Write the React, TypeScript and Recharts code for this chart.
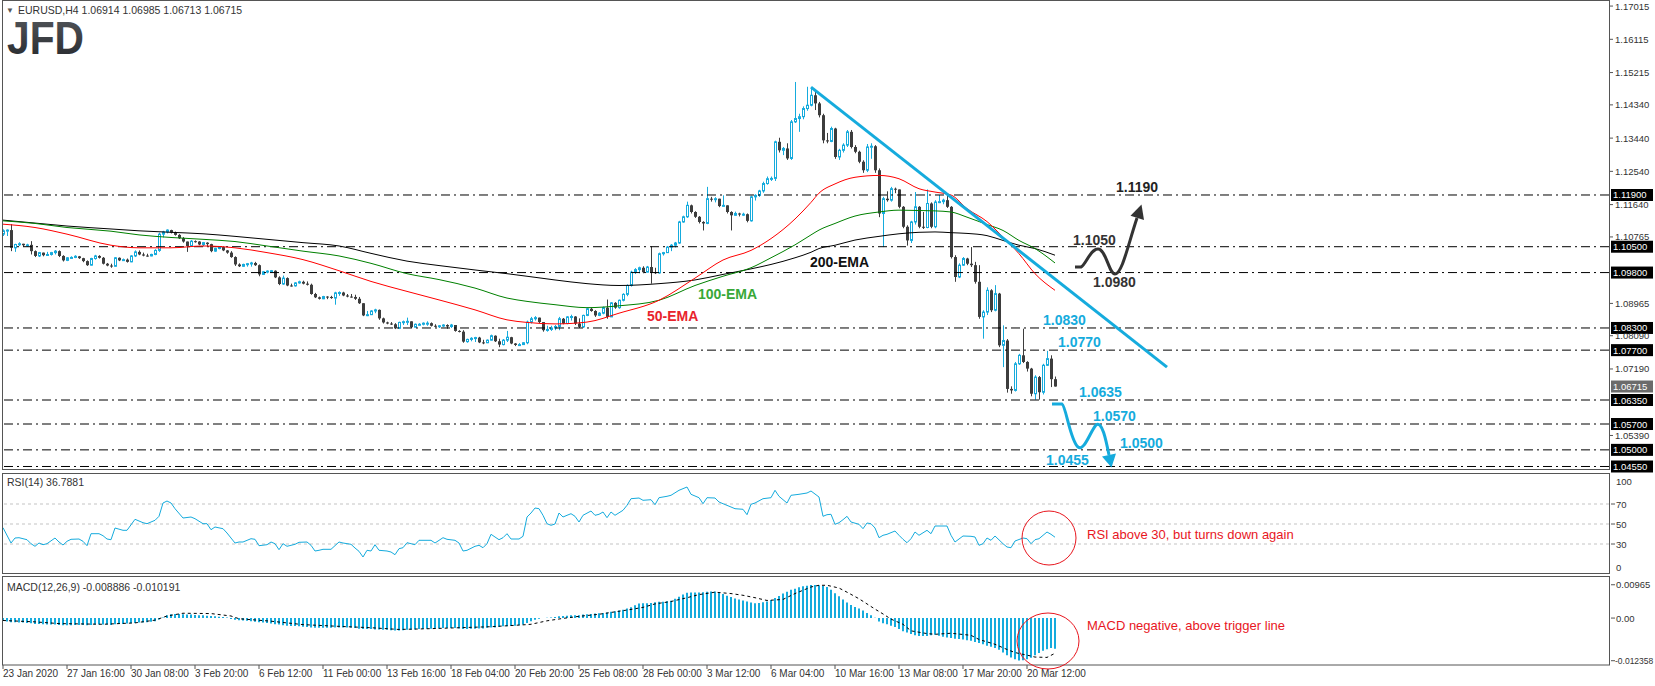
import React from "react";
import { ComposedChart, Bar, Line, XAxis, YAxis, ReferenceLine } from "recharts";

const FONT = "'Liberation Sans', Arial, sans-serif";
const CYAN = "#15ABDD";
const DARK = "#3D3D3D";

// EURUSD H4 candles, bar 0 = 23 Jan 2020 00:00
const firstOpen = 1.1084;
const closes = [
  1.1093, 1.1095, 1.1047, 1.1056, 1.1058, 1.1054, 1.1055, 1.1038, 1.1025, 1.1034,
  1.1027, 1.1029, 1.1034, 1.1038, 1.1025, 1.1013, 1.102, 1.1021, 1.1024, 1.1019,
  1.1011, 1.1, 1.1018, 1.1025, 1.102, 1.1004, 1.0999, 1.0997, 1.102, 1.1013,
  1.1015, 1.1009, 1.1025, 1.1036, 1.1029, 1.1026, 1.1025, 1.1029, 1.104, 1.1084,
  1.109, 1.1095, 1.1088, 1.1082, 1.1073, 1.1064, 1.1052, 1.1065, 1.1064, 1.1056,
  1.1061, 1.1057, 1.1038, 1.1045, 1.1049, 1.104, 1.1034, 1.1022, 1.1002, 1.0997,
  1.1002, 1.1004, 1.1006, 1.1, 1.0975, 1.0982, 1.0984, 1.0985, 1.0967, 1.0949,
  1.0965, 1.0945, 1.0944, 1.0952, 1.0955, 1.095, 1.0947, 1.0922, 1.0913, 1.0909,
  1.0915, 1.0914, 1.0911, 1.0925, 1.0926, 1.0918, 1.0915, 1.0914, 1.0909, 1.0897,
  1.0864, 1.0866, 1.0876, 1.0879, 1.0856, 1.0845, 1.0842, 1.084, 1.0829, 1.0845,
  1.0847, 1.0848, 1.0832, 1.084, 1.084, 1.0843, 1.0843, 1.0836, 1.0834, 1.0836,
  1.0838, 1.0834, 1.0838, 1.0822, 1.082, 1.0793, 1.0799, 1.0802, 1.0804, 1.0791,
  1.079, 1.0797, 1.0809, 1.0794, 1.0785, 1.0797, 1.0805, 1.0788, 1.0784, 1.0785,
  1.079, 1.0846, 1.0855, 1.0858, 1.0846, 1.0824, 1.0826, 1.083, 1.0834, 1.0855,
  1.0842, 1.086, 1.0861, 1.0842, 1.0833, 1.0864, 1.0882, 1.0876, 1.0864, 1.087,
  1.0885, 1.086, 1.0898, 1.0885, 1.0905, 1.0921, 1.0945, 1.0981, 1.0988, 1.0993,
  1.0981, 1.0995, 1.0981, 1.0979, 1.1031, 1.1034, 1.1049, 1.1054, 1.106, 1.1117,
  1.1131, 1.1162, 1.1144, 1.1131, 1.1117, 1.1113, 1.118, 1.1178, 1.118, 1.116,
  1.1162, 1.1144, 1.1135, 1.114, 1.1137, 1.1138, 1.112, 1.1185, 1.1189, 1.1201,
  1.1221, 1.1234, 1.1235, 1.1334, 1.1311, 1.1316, 1.1289, 1.1388, 1.1397, 1.1402,
  1.1424, 1.1433, 1.146, 1.1438, 1.1406, 1.1338, 1.1335, 1.137, 1.1293, 1.1311,
  1.1325, 1.1361, 1.132, 1.1307, 1.128, 1.1257, 1.132, 1.1322, 1.1257, 1.114,
  1.118, 1.1176, 1.1207, 1.1205, 1.1158, 1.1104, 1.1067, 1.1117, 1.1158, 1.1104,
  1.1102, 1.1167, 1.1104, 1.1171, 1.1172, 1.1176, 1.1158, 1.1022, 1.0968, 1.1,
  1.1018, 1.1004, 1.1, 1.0955, 1.086, 1.0873, 1.0932, 1.0878, 1.0923, 1.0783,
  1.0796, 1.0665, 1.0661, 1.0733, 1.0756, 1.0738, 1.072, 1.0652, 1.0697, 1.0656,
  1.0729, 1.0747, 1.06914, 1.06715,
];
const highs = [
  1.1097, 1.1097, 1.1111, 1.1058, 1.1062, 1.1058, 1.1058, 1.1065, 1.104, 1.1036,
  1.1034, 1.1036, 1.1036, 1.1041, 1.104, 1.1027, 1.1022, 1.1024, 1.1027, 1.1025,
  1.102, 1.1013, 1.102, 1.1028, 1.1027, 1.1022, 1.1006, 1.1004, 1.1022, 1.1021,
  1.1018, 1.1018, 1.1027, 1.104, 1.104, 1.1034, 1.1031, 1.1031, 1.1043, 1.1088,
  1.1093, 1.1097, 1.1096, 1.1091, 1.1084, 1.1076, 1.1064, 1.1068, 1.1067, 1.1065,
  1.1063, 1.1062, 1.1058, 1.1047, 1.1051, 1.1051, 1.1041, 1.1038, 1.1024, 1.1005,
  1.1004, 1.1006, 1.1009, 1.1009, 1.1002, 1.0984, 1.0986, 1.0987, 1.0986, 1.097,
  1.0972, 1.0967, 1.095, 1.0954, 1.0958, 1.0958, 1.0956, 1.095, 1.0925, 1.0915,
  1.0917, 1.0916, 1.0917, 1.0928, 1.0929, 1.0928, 1.0922, 1.0922, 1.092, 1.0914,
  1.0897, 1.0876, 1.0878, 1.0882, 1.088, 1.0858, 1.0847, 1.0846, 1.0843, 1.0847,
  1.085, 1.0858, 1.0848, 1.0842, 1.0843, 1.0845, 1.0848, 1.0845, 1.084, 1.0838,
  1.084, 1.084, 1.0841, 1.0838, 1.0824, 1.0824, 1.0801, 1.0805, 1.0806, 1.0806,
  1.0798, 1.0799, 1.0812, 1.081, 1.0801, 1.08, 1.0822, 1.0806, 1.0789, 1.0789,
  1.0792, 1.085, 1.086, 1.0862, 1.0858, 1.0846, 1.0836, 1.0836, 1.0838, 1.086,
  1.0857, 1.0862, 1.0866, 1.0862, 1.0856, 1.0866, 1.0885, 1.0884, 1.0878, 1.0873,
  1.0888, 1.0907, 1.09, 1.09, 1.0907, 1.0924, 1.0948, 1.0985, 1.0992, 1.0996,
  1.0997, 1.0998, 1.1051, 1.0993, 1.1034, 1.1036, 1.1052, 1.1057, 1.1063, 1.112,
  1.1134, 1.1172, 1.1164, 1.1146, 1.1133, 1.1119, 1.1212, 1.1185, 1.1184, 1.118,
  1.1189, 1.1162, 1.1146, 1.1145, 1.1142, 1.1142, 1.114, 1.1188, 1.1192, 1.1204,
  1.1226, 1.124, 1.124, 1.1337, 1.1345, 1.132, 1.133, 1.1393, 1.1496, 1.141,
  1.143, 1.1483, 1.1478, 1.147, 1.1442, 1.141, 1.1358, 1.1375, 1.1372, 1.1315,
  1.133, 1.1366, 1.1366, 1.1325, 1.131, 1.1284, 1.1328, 1.133, 1.1325, 1.1262,
  1.1185, 1.12, 1.1212, 1.121, 1.1205, 1.116, 1.1108, 1.112, 1.1198, 1.116,
  1.1144, 1.1205, 1.117, 1.1176, 1.119, 1.118, 1.119, 1.116, 1.1027, 1.1005,
  1.1022, 1.102, 1.1049, 1.1009, 1.1, 1.0878, 1.094, 1.0935, 1.0946, 1.0925,
  1.0837, 1.08, 1.0672, 1.0738, 1.076, 1.0828, 1.074, 1.0722, 1.0702, 1.07,
  1.0733, 1.0768, 1.0756, 1.06985,
];
const lows = [
  1.1079, 1.1079, 1.1038, 1.1036, 1.1052, 1.105, 1.105, 1.1029, 1.1022, 1.1022,
  1.1024, 1.1025, 1.1026, 1.1029, 1.1022, 1.101, 1.1011, 1.1018, 1.1019, 1.1017,
  1.1008, 1.0998, 1.0999, 1.1015, 1.1018, 1.1002, 1.0997, 1.0993, 1.0996, 1.1011,
  1.1012, 1.1007, 1.1008, 1.1022, 1.1027, 1.1024, 1.1023, 1.1024, 1.1027, 1.1036,
  1.1075, 1.1086, 1.1086, 1.108, 1.1071, 1.1061, 1.1036, 1.1052, 1.1061, 1.1054,
  1.1051, 1.1052, 1.1035, 1.1036, 1.1043, 1.1038, 1.1031, 1.102, 1.0998, 1.0995,
  1.0995, 1.0996, 1.0996, 1.0998, 1.097, 1.0975, 1.0978, 1.0981, 1.0965, 1.0946,
  1.0947, 1.0943, 1.0942, 1.0942, 1.095, 1.0948, 1.0945, 1.092, 1.0911, 1.0907,
  1.0908, 1.0908, 1.0909, 1.0893, 1.0917, 1.0916, 1.0913, 1.0912, 1.0906, 1.0895,
  1.0862, 1.0862, 1.0865, 1.087, 1.0852, 1.0842, 1.084, 1.0838, 1.0827, 1.0827,
  1.0838, 1.0838, 1.083, 1.0832, 1.0837, 1.0837, 1.0836, 1.0834, 1.0832, 1.083,
  1.0833, 1.0828, 1.083, 1.082, 1.0818, 1.079, 1.079, 1.0794, 1.0792, 1.0789,
  1.0786, 1.0789, 1.0796, 1.0792, 1.0778, 1.0783, 1.0792, 1.0786, 1.0781, 1.0782,
  1.0785, 1.0786, 1.0842, 1.085, 1.0843, 1.082, 1.082, 1.0822, 1.0824, 1.0824,
  1.084, 1.084, 1.085, 1.0838, 1.083, 1.083, 1.0862, 1.0874, 1.086, 1.0862,
  1.0867, 1.0855, 1.0862, 1.0882, 1.0882, 1.0902, 1.0916, 1.0942, 1.0976, 1.0978,
  1.0978, 1.0981, 1.095, 1.0976, 1.0977, 1.1026, 1.1038, 1.1038, 1.1048, 1.1058,
  1.1115, 1.1128, 1.114, 1.1128, 1.1113, 1.1094, 1.1111, 1.1172, 1.117, 1.1157,
  1.1158, 1.114, 1.1094, 1.1134, 1.1132, 1.1133, 1.1116, 1.1118, 1.1175, 1.1185,
  1.1196, 1.1218, 1.1228, 1.1228, 1.1305, 1.1298, 1.1285, 1.1285, 1.1385, 1.1361,
  1.1395, 1.1418, 1.143, 1.142, 1.14, 1.133, 1.133, 1.1333, 1.1288, 1.1285,
  1.1305, 1.132, 1.1316, 1.1303, 1.1276, 1.125, 1.1252, 1.1288, 1.125, 1.113,
  1.1049, 1.1172, 1.1172, 1.1195, 1.1154, 1.11, 1.1053, 1.106, 1.111, 1.11,
  1.1098, 1.11, 1.11, 1.11, 1.1168, 1.1165, 1.1155, 1.1018, 1.0955, 1.0965,
  1.0998, 1.1, 1.0995, 1.095, 1.0855, 1.0801, 1.0865, 1.0873, 1.0875, 1.0778,
  1.0724, 1.0655, 1.0652, 1.0658, 1.073, 1.0735, 1.0712, 1.0645, 1.0636, 1.0636,
  1.065, 1.0727, 1.067, 1.06713,
];

// moving averages at these bars
const emaBars = [0, 8, 16, 27, 34, 42, 50, 58, 66, 75, 84, 92, 101, 109, 118, 126, 131, 138, 146, 154, 164, 173, 180, 187, 192, 198, 202, 204, 208, 213, 219, 224, 229, 233, 237, 241, 246, 250, 254, 258, 263];
const ema50 = [1.1111, 1.1102, 1.1084, 1.1054, 1.1047, 1.1047, 1.1052, 1.1047, 1.1034, 1.1015, 1.0985, 1.0956, 1.0929, 1.0906, 1.0879, 1.0852, 1.0845, 1.0841, 1.0846, 1.087, 1.0905, 1.0965, 1.1014, 1.104, 1.1072, 1.1125, 1.117, 1.1195, 1.122, 1.1238, 1.1243, 1.1234, 1.1207, 1.1198, 1.119, 1.1153, 1.1118, 1.1076, 1.1031, 1.0977, 1.0932];
const ema100 = [1.112, 1.1113, 1.1102, 1.1092, 1.1082, 1.1075, 1.107, 1.1064, 1.1052, 1.1038, 1.1025, 1.1005, 1.0977, 1.0961, 1.0938, 1.0911, 1.0902, 1.0893, 1.0885, 1.089, 1.0905, 1.0945, 1.097, 1.0993, 1.102, 1.1055, 1.1082, 1.1095, 1.1113, 1.1133, 1.1144, 1.1149, 1.1148, 1.1147, 1.1144, 1.113, 1.111, 1.1094, 1.1067, 1.1045, 1.1006];
const ema200 = [1.1122, 1.1114, 1.1106, 1.1098, 1.1093, 1.1089, 1.1085, 1.1078, 1.107, 1.1061, 1.1052, 1.1032, 1.1011, 1.0999, 1.0987, 1.0977, 1.097, 1.096, 1.095, 1.0945, 1.095, 1.096, 1.0975, 1.099, 1.1002, 1.102, 1.1035, 1.1045, 1.1054, 1.1068, 1.1078, 1.1085, 1.1089, 1.109, 1.1088, 1.1086, 1.108, 1.1067, 1.1054, 1.1045, 1.1027];

const rsiBars = [0, 2, 3, 4, 6, 7, 8, 9, 10, 11, 13, 14, 15, 16, 17, 19, 20, 21, 22, 24, 25, 26, 27, 28, 30, 31, 33, 35, 36, 38, 39, 40, 41, 42, 43, 45, 47, 48, 50, 51, 52, 53, 55, 56, 58, 59, 60, 62, 63, 64, 66, 67, 68, 69, 70, 71, 73, 74, 76, 77, 78, 79, 80, 82, 84, 85, 87, 88, 89, 90, 91, 92, 93, 94, 96, 97, 98, 99, 100, 101, 103, 104, 107, 108, 110, 111, 113, 114, 115, 116, 118, 119, 120, 121, 122, 124, 125, 126, 127, 129, 130, 131, 132, 133, 134, 135, 136, 137, 138, 139, 140, 141, 142, 143, 144, 145, 147, 148, 149, 150, 151, 152, 153, 155, 156, 157, 159, 160, 162, 163, 164, 166, 167, 169, 171, 172, 174, 175, 176, 178, 179, 180, 182, 183, 185, 186, 187, 188, 190, 192, 193, 194, 196, 197, 199, 201, 202, 204, 205, 206, 207, 208, 209, 210, 211, 212, 214, 215, 216, 217, 218, 219, 220, 221, 223, 224, 225, 226, 227, 228, 229, 231, 232, 233, 236, 237, 238, 240, 242, 243, 244, 245, 246, 247, 248, 250, 251, 252, 253, 255, 256, 257, 258, 259, 261, 262, 263];
const rsiValues = [46.3, 31, 36, 36.3, 34.3, 30.3, 27.7, 31, 29.3, 30.3, 36, 32, 29, 32.7, 34.7, 35, 32.7, 28.3, 40.3, 40.3, 38.3, 35, 34.3, 46, 43.7, 43.7, 54.7, 51.3, 50.3, 53.7, 57.7, 71, 73, 71, 65.3, 56, 57, 55.3, 50.3, 50.3, 44.3, 47, 45.3, 41, 31, 32, 32, 35.3, 34.7, 28.3, 29.3, 32, 30.3, 24.3, 30.3, 27.7, 29.7, 31.7, 32, 28.7, 23, 23.7, 24.7, 24.7, 32, 31, 29.7, 26, 22.7, 17, 23.7, 23, 29.3, 23.7, 23, 22, 19.3, 25.3, 26.3, 31.3, 29.3, 33.7, 33.7, 31, 36.3, 34.7, 33.7, 31, 23, 23.7, 27.7, 28.7, 26.3, 30.3, 39.7, 34.3, 36.3, 40.3, 35, 35, 37.7, 57, 61, 66, 65.3, 58.7, 50.3, 48.7, 50, 61, 57, 58.7, 60.3, 57.7, 52, 58.7, 63, 58.7, 59.7, 62, 56.3, 62, 58.7, 63.7, 68.7, 75.3, 76, 73.7, 74.3, 69.3, 76.3, 77.7, 78.7, 83.7, 87, 79.7, 76.3, 70.3, 76.3, 76, 72, 70.3, 67, 65.3, 64.7, 59.3, 69.7, 71, 75.3, 76.3, 83.7, 77.7, 71, 78.7, 79.7, 81, 83, 77, 57.7, 59.3, 59.7, 49.7, 51.3, 54.3, 57.7, 52, 49.7, 45.3, 51, 50.3, 46, 36.3, 38.7, 39.7, 43, 38.7, 34.7, 31.3, 35.3, 42, 38.7, 43.7, 40.3, 48, 48, 38.7, 32, 38, 37.7, 37, 28.7, 30.3, 36, 33.7, 38, 30.3, 27, 26.3, 33, 36, 35.3, 30.3, 34.3, 35.3, 42, 39.7, 36.79];

const macdMain = [
  -0.0008, -0.001, -0.0012, -0.0012, -0.0013, -0.0013, -0.0014, -0.0015,
  -0.0017, -0.0017, -0.0018, -0.0019, -0.0019, -0.0019, -0.002, -0.0021,
  -0.0021, -0.0021, -0.002, -0.002, -0.002, -0.0021, -0.002, -0.0019,
  -0.0019, -0.0019, -0.0019, -0.002, -0.0018, -0.0017, -0.0017, -0.0016,
  -0.0015, -0.0014, -0.0013, -0.0013, -0.0012, -0.0011, -0.0009, -0.0004,
  0.0002, 0.0008, 0.0011, 0.0012, 0.0012, 0.0011, 0.001, 0.001,
  0.0009, 0.0008, 0.0008, 0.0007, 0.0006, 0.0005, 0.0004, 0.0003,
  0.0002, -0.0003, -0.0005, -0.0006, -0.0007, -0.0008, -0.0009,
  -0.0011, -0.0012, -0.0013, -0.0014, -0.0016, -0.0018, -0.0019, -0.0021,
  -0.0022, -0.0023, -0.0023, -0.0024, -0.0025, -0.0026, -0.0027, -0.0028,
  -0.0028, -0.0028, -0.0028, -0.0028, -0.0027, -0.0027, -0.0027, -0.0027,
  -0.0028, -0.0029, -0.0031, -0.0032, -0.0032, -0.0032, -0.0033, -0.0033,
  -0.0034, -0.0034, -0.0035, -0.0036, -0.0036, -0.0035, -0.0034, -0.0034,
  -0.0033, -0.0032, -0.0032, -0.0031, -0.0031, -0.003, -0.003, -0.0029,
  -0.0029, -0.0029, -0.0029, -0.003, -0.0032, -0.0032, -0.0031, -0.0031,
  -0.003, -0.003, -0.0028, -0.0027, -0.0027, -0.0026, -0.0024, -0.0024,
  -0.0023, -0.0022, -0.0021, -0.0019, -0.0014, -0.0009, -0.0005, -0.0002,
  0.0, 0.0001, 0.0002, 0.0003, 0.0005, 0.0006, 0.0007, 0.0008,
  0.0008, 0.0008, 0.001, 0.0011, 0.0012, 0.0013, 0.0014, 0.0015,
  0.0016, 0.0018, 0.002, 0.0022, 0.0024, 0.0028, 0.0031,
  0.0037, 0.0042, 0.0043, 0.0043, 0.0044, 0.0046, 0.0047, 0.0047,
  0.0049, 0.005, 0.0056, 0.0062, 0.0068, 0.0073, 0.0074, 0.0074,
  0.0074, 0.0075, 0.0076, 0.0077, 0.0077, 0.0075, 0.007, 0.0065,
  0.0061, 0.0057, 0.0054, 0.0051, 0.0048, 0.0045, 0.0043, 0.0044,
  0.0046, 0.0048, 0.0052, 0.0058, 0.0064, 0.0071, 0.0076, 0.0082,
  0.0085, 0.0089, 0.0092, 0.0094, 0.0096, 0.0096, 0.0095, 0.0093,
  0.009, 0.0082, 0.0072, 0.0063, 0.0054, 0.0045, 0.0038, 0.0032,
  0.0028, 0.0022, 0.0015, 0.0008, 0.0001, -0.001, -0.0015, -0.0018,
  -0.0022, -0.0026, -0.0032, -0.0038, -0.0042, -0.0046, -0.005, -0.0052,
  -0.0052, -0.0052, -0.005, -0.0048, -0.0051, -0.0054, -0.0056, -0.0058,
  -0.006, -0.0061, -0.0062, -0.0064, -0.0066, -0.0069, -0.0072, -0.0076,
  -0.008, -0.0083, -0.0087, -0.0092, -0.01, -0.0108, -0.0114, -0.0119,
  -0.0123, -0.0122, -0.0119, -0.0115, -0.0108, -0.0101, -0.0095, -0.009,
  -0.0087, -0.0089,
];
const sigBars = [0, 8, 14, 25, 33, 38, 41, 45, 52, 57, 59, 67, 75, 84, 92, 99, 106, 114, 122, 131, 132, 136, 140, 144, 149, 153, 157, 160, 163, 167, 171, 174, 178, 182, 185, 188, 191, 195, 198, 202, 204, 206, 209, 211, 214, 216, 218, 220, 222, 225, 227, 231, 233, 237, 242, 244, 248, 251, 253, 257, 258, 261, 263];
const sigValues = [-0.0007, -0.0011, -0.0016, -0.0018, -0.0014, -0.0006, 0.0006, 0.0014, 0.0013, 0.0006, -0.0002, -0.0009, -0.0019, -0.0024, -0.0028, -0.0033, -0.0031, -0.0028, -0.0025, -0.0019, -0.0018, -0.0008, -0.0001, 0.0005, 0.0011, 0.0018, 0.0025, 0.0031, 0.0041, 0.0048, 0.0059, 0.0068, 0.0075, 0.0071, 0.0066, 0.0059, 0.0051, 0.0054, 0.0071, 0.009, 0.0095, 0.0095, 0.0087, 0.0075, 0.0056, 0.0041, 0.0026, 0.0012, -0.0003, -0.0018, -0.0037, -0.0045, -0.0047, -0.0044, -0.005, -0.0062, -0.0076, -0.0091, -0.01, -0.011, -0.0113, -0.0114, -0.0102];

const timeBars = [0, 16, 32, 48, 64, 80, 96, 112, 128, 144, 160, 176, 192, 208, 224, 240, 256];
const timeLabels = ["23 Jan 2020", "27 Jan 16:00", "30 Jan 08:00", "3 Feb 20:00", "6 Feb 12:00", "11 Feb 00:00", "13 Feb 16:00", "18 Feb 04:00", "20 Feb 20:00", "25 Feb 08:00", "28 Feb 00:00", "3 Mar 12:00", "6 Mar 04:00", "10 Mar 16:00", "13 Mar 08:00", "17 Mar 20:00", "20 Mar 12:00"];

const priceTicks = [1.17015, 1.16115, 1.15215, 1.1434, 1.1344, 1.1254, 1.1164, 1.10765, 1.08965, 1.0809, 1.0719, 1.0539];
const levels = [1.119, 1.105, 1.098, 1.083, 1.077, 1.0635, 1.057, 1.05, 1.0455];
const lastPrice = 1.06715;

const SLOTS = 402;
const rows: any[] = Array.from({ length: SLOTS }, (_, i) => {
  const row: any = { i };
  if (i < closes.length) {
    row.open = i === 0 ? firstOpen : closes[i - 1];
    row.close = closes[i];
    row.high = highs[i];
    row.low = lows[i];
    row.range = [lows[i], highs[i]];
    row.macd = macdMain[i];
  }
  return row;
});
emaBars.forEach((b, k) => {
  rows[b].e50 = ema50[k];
  rows[b].e100 = ema100[k];
  rows[b].e200 = ema200[k];
});
rsiBars.forEach((b, k) => (rows[b].rsi = rsiValues[k]));
sigBars.forEach((b, k) => (rows[b].sig = sigValues[k]));

function Candle(props: any) {
  const { x, y, width, height, payload } = props;
  if (!payload || payload.close == null || !isFinite(y) || !isFinite(height)) return null;
  const { open, close, high, low } = payload;
  const cx = Math.round(x + width / 2) + 0.5;
  const ppu = high > low ? height / (high - low) : 0;
  const yOf = (v: number) => y + (high - v) * ppu;
  const up = close >= open;
  const top = yOf(Math.max(open, close));
  const bot = yOf(Math.min(open, close));
  const color = up ? CYAN : DARK;
  return (
    <g>
      <line x1={cx} x2={cx} y1={y} y2={y + height} stroke={color} strokeWidth={1} />
      {up ? (
        <rect x={cx - 1} y={top} width={2} height={Math.max(bot - top, 1)} fill="#fff" stroke={color} strokeWidth={1} />
      ) : (
        <rect x={cx - 1.5} y={top} width={3} height={Math.max(bot - top, 1)} fill={color} />
      )}
    </g>
  );
}

const PriceTick = (p: any) => (
  <text x={p.x} y={p.y + 3.5} fontSize={9.5} fontFamily={FONT} fill="#333">
    {Number(p.payload.value).toFixed(5)}
  </text>
);

const LevelTag = (p: any) => {
  const vb = p.viewBox;
  const x = vb.x + vb.width + 2;
  return (
    <g>
      <rect x={x} y={vb.y - 6} width={42} height={12} fill={p.fill} />
      <text x={x + 2} y={vb.y + 3.5} fontSize={9.5} fontFamily={FONT} fill="#fff">
        {p.text}
      </text>
    </g>
  );
};

const RsiTick = (p: any) => {
  const v = p.payload.value;
  const dy = v === 100 ? 7 : v === 0 ? -7 : 0;
  return (
    <g>
      {v !== 100 && v !== 0 && <line x1={p.x - 6} x2={p.x - 2} y1={p.y} y2={p.y} stroke="#555" />}
      <text x={p.x - 1} y={p.y + dy + 3.5} fontSize={9.5} fontFamily={FONT} fill="#333">
        {v}
      </text>
    </g>
  );
};

const macdText: Record<string, string> = { "0.00965": "0.00965", "0": "0.00", "-0.012358": "-0.012358" };
const MacdTick = (p: any) => {
  const label = macdText[String(p.payload.value)];
  const long = label && label.length > 7;
  return (
    <g>
      <line x1={p.x - 6} x2={p.x - 2} y1={p.y} y2={p.y} stroke="#555" />
      <text x={p.x - (long ? 2 : 1)} y={p.y + 3.5} fontSize={long ? 8.5 : 9.5} fontFamily={FONT} fill="#333">
        {label}
      </text>
    </g>
  );
};

const TimeTick = (p: any) => {
  const k = timeBars.indexOf(Number(p.payload.value));
  return (
    <g>
      <line x1={p.x} x2={p.x} y1={p.y - 8} y2={p.y - 4} stroke="#555" />
      <text x={p.x} y={p.y + 4} fontSize={10} fontFamily={FONT} fill="#333">
        {timeLabels[k]}
      </text>
    </g>
  );
};

function Overlay() {
  const red = "#E8161E";
  const bold = { fontFamily: FONT, fontWeight: 700, fontSize: 14 } as const;
  return (
    <svg width={1655} height={686} style={{ position: "absolute", left: 0, top: 0, pointerEvents: "none" }}>
      <defs>
        <linearGradient id="jfd" x1="0" y1="0" x2="0" y2="1">
          <stop offset="0" stopColor="#55585d" />
          <stop offset="1" stopColor="#24272b" />
        </linearGradient>
      </defs>
      <g fill="none" stroke="#555" strokeWidth={1}>
        <rect x={2.5} y={0.5} width={1607} height={469} />
        <rect x={2.5} y={473.5} width={1607} height={100} />
        <rect x={2.5} y={576.5} width={1607} height={88.5} />
      </g>
      <text x={6} y={13} fontSize={8} fill="#555" fontFamily={FONT}>▼</text>
      <text x={18} y={13.5} fontSize={10.5} fill="#333" fontFamily={FONT}>
        EURUSD,H4  1.06914 1.06985 1.06713 1.06715
      </text>
      <text x={7} y={54} fontSize={46} fontWeight={700} fontFamily={FONT} fill="url(#jfd)" textLength={77} lengthAdjust="spacingAndGlyphs">
        JFD
      </text>
      <text x={7} y={486} fontSize={10.5} fill="#333" fontFamily={FONT}>RSI(14) 36.7881</text>
      <text x={7} y={591} fontSize={10.5} fill="#333" fontFamily={FONT}>MACD(12,26,9) -0.008886 -0.010191</text>

      <text x={647} y={321} fill="#E8242C" {...bold}>50-EMA</text>
      <text x={698} y={299} fill="#38A838" {...bold}>100-EMA</text>
      <text x={810} y={267} fill="#111" {...bold}>200-EMA</text>

      <text x={1116} y={192} fill="#222" {...bold}>1.1190</text>
      <text x={1073} y={245} fill="#333" {...bold}>1.1050</text>
      <text x={1093} y={287} fill="#333" {...bold}>1.0980</text>
      <path d="M1075,267 L1081,267 C1086,265 1090,249 1098,249 C1106,249 1109,274 1115,274 C1122,274 1128,245 1137,218" fill="none" stroke="#333" strokeWidth={3} />
      <polygon points="1141.5,204.5 1144,220 1130.5,215.8" fill="#333" />

      <g fill={CYAN} {...bold}>
        <text x={1043} y={325}>1.0830</text>
        <text x={1058} y={347}>1.0770</text>
        <text x={1079} y={397}>1.0635</text>
        <text x={1093} y={421}>1.0570</text>
        <text x={1120} y={448}>1.0500</text>
        <text x={1046} y={465}>1.0455</text>
      </g>
      <path d="M1052,404 L1062,404 C1066,406 1070,440 1078,447 C1084,452 1090,432 1096,425 C1102,420 1106,440 1109,455" fill="none" stroke={CYAN} strokeWidth={3} />
      <polygon points="1111.5,467.5 1116,453.5 1102,456.5" fill={CYAN} />

      <circle cx={1049} cy={538} r={27} fill="none" stroke={red} strokeWidth={1} />
      <text x={1087} y={539} fontSize={13} fill={red} fontFamily={FONT}>RSI above 30, but turns down again</text>
      <ellipse cx={1048} cy={641} rx={31} ry={28} fill="none" stroke={red} strokeWidth={1} />
      <text x={1087} y={630} fontSize={13} fill={red} fontFamily={FONT}>MACD negative, above trigger line</text>
    </svg>
  );
}

export default function App() {
  return (
    <div style={{ position: "absolute", left: 0, top: 0, width: 1655, height: 686, background: "#fff", overflow: "hidden" }}>
      <div style={{ position: "absolute", left: 0, top: 0 }}>
        <ComposedChart width={1655} height={476} data={rows} margin={{ top: 2, right: 0, bottom: 7, left: 1 }} barCategoryGap={0}>
          <XAxis dataKey="i" type="category" hide />
          <YAxis
            orientation="right"
            width={46}
            type="number"
            domain={[1.04482, 1.17125]}
            allowDataOverflow
            ticks={priceTicks}
            interval={0}
            axisLine={false}
            tickSize={4}
            tickLine={{ stroke: "#555" }}
            tick={PriceTick}
          />
          {levels.map((v) => (
            <ReferenceLine
              key={v}
              y={v}
              stroke="#000"
              strokeDasharray="9 4 2 4"
              label={(p: any) => <LevelTag viewBox={p.viewBox} fill="#000" text={v.toFixed(5)} />}
            />
          ))}
          <ReferenceLine
            y={lastPrice}
            stroke="none"
            label={(p: any) => <LevelTag viewBox={p.viewBox} fill="#6B6B6B" text={lastPrice.toFixed(5)} />}
          />
          <Line dataKey="e200" stroke="#000" strokeWidth={1} dot={false} connectNulls type="monotone" isAnimationActive={false} />
          <Line dataKey="e100" stroke="#008000" strokeWidth={1} dot={false} connectNulls type="monotone" isAnimationActive={false} />
          <Line dataKey="e50" stroke="#FF0000" strokeWidth={1} dot={false} connectNulls type="monotone" isAnimationActive={false} />
          <Bar dataKey="range" shape={(p: any) => <Candle {...p} />} isAnimationActive={false} />
          <ReferenceLine
            segment={[
              { x: 202, y: 1.1482 },
              { x: 291, y: 1.0724 },
            ]}
            stroke={CYAN}
            strokeWidth={3}
            ifOverflow="visible"
          />
        </ComposedChart>
      </div>

      <div style={{ position: "absolute", left: 0, top: 474 }}>
        <ComposedChart width={1655} height={100} data={rows} margin={{ top: 0, right: 0, bottom: 0, left: 1 }} barCategoryGap={0}>
          <XAxis dataKey="i" type="category" hide />
          <YAxis orientation="right" width={46} type="number" domain={[0, 100]} ticks={[0, 30, 50, 70, 100]} interval={0} axisLine={false} tickLine={false} tick={RsiTick} />
          {[30, 50, 70].map((v) => (
            <ReferenceLine key={v} y={v} stroke="#C3C3C3" strokeDasharray="3 3" />
          ))}
          <Bar dataKey="none" isAnimationActive={false} />
          <Line dataKey="rsi" stroke={CYAN} strokeWidth={1} dot={false} connectNulls type="linear" isAnimationActive={false} />
        </ComposedChart>
      </div>

      <div style={{ position: "absolute", left: 0, top: 577 }}>
        <ComposedChart width={1655} height={109} data={rows} margin={{ top: 0, right: 0, bottom: 0, left: 1 }} barCategoryGap={0}>
          <XAxis dataKey="i" type="category" height={21} ticks={timeBars} interval={0} axisLine={false} tickLine={false} tick={TimeTick} />
          <YAxis orientation="right" width={46} type="number" domain={[-0.0136, 0.0119]} allowDataOverflow ticks={[-0.012358, 0, 0.00965]} interval={0} axisLine={false} tickLine={false} tick={MacdTick} />
          <Bar dataKey="macd" fill={CYAN} barSize={2} isAnimationActive={false} />
          <Line dataKey="sig" stroke="#000" strokeWidth={1} strokeDasharray="3 3" dot={false} connectNulls type="linear" isAnimationActive={false} />
        </ComposedChart>
      </div>

      <Overlay />
    </div>
  );
}
